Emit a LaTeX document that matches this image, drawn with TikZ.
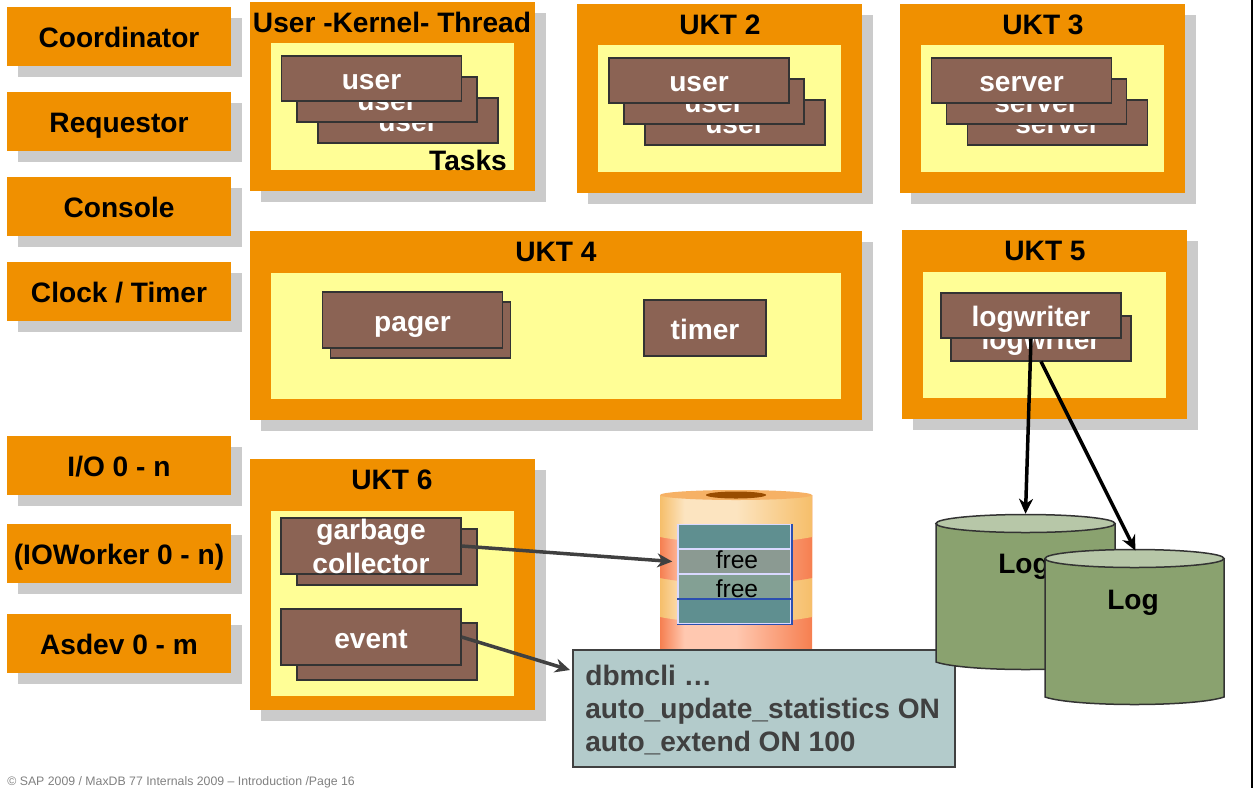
\documentclass[tikz,border=0pt]{standalone}
\usepackage{fontspec}
\setmainfont{Liberation Sans}
\usetikzlibrary{arrows.meta,shadows,shapes.geometric}

\definecolor{threadorange}{HTML}{F09000}
\definecolor{taskyellow}{HTML}{FFFE96}
\definecolor{taskbrown}{HTML}{8B6354}
\definecolor{shadowgray}{HTML}{CBCBCB}
\definecolor{notegray}{HTML}{B3CBCB}
\definecolor{loggreen}{HTML}{8AA26F}
\definecolor{logcap}{HTML}{B7C7A8}
\definecolor{rowteal}{HTML}{5F8F90}
\definecolor{rowfreea}{HTML}{8B9A92}
\definecolor{rowfreeb}{HTML}{83A094}
\definecolor{rowblue}{HTML}{2B4FB0}
\definecolor{lightedge}{HTML}{F6BE6A}
\definecolor{lightmid}{HTML}{FCE4C0}
\definecolor{rededge}{HTML}{F67F50}
\definecolor{redmid}{HTML}{FFC8B0}

\pgfdeclarehorizontalshading{disklight}{100bp}{color(0bp)=(lightedge); color(25bp)=(lightedge); color(33bp)=(lightmid); color(50bp)=(lightmid); color(75bp)=(lightedge); color(100bp)=(lightedge)}
\pgfdeclarehorizontalshading{diskred}{100bp}{color(0bp)=(rededge); color(25bp)=(rededge); color(33bp)=(redmid); color(50bp)=(redmid); color(75bp)=(rededge); color(100bp)=(rededge)}

\def\px{0.02cm}
\tikzset{
  bigfont/.style={font=\fontsize{16}{19}\bfseries\selectfont, text height=22*\px, text depth=2*\px},
  sidebox/.style={fill=threadorange, bigfont, text height=24*\px, inner sep=0pt, minimum width=224*\px, minimum height=59*\px,
    drop shadow={shadow xshift=11*\px, shadow yshift=-11*\px, fill=shadowgray, opacity=1}},
  thread/.style n args={2}{fill=threadorange, inner sep=0pt, minimum width=#1*\px, minimum height=#2*\px,
    drop shadow={shadow xshift=11*\px, shadow yshift=-11*\px, fill=shadowgray, opacity=1}},
  inner/.style n args={2}{fill=taskyellow, inner sep=0pt, minimum width=#1*\px, minimum height=#2*\px},
  task/.style n args={2}{fill=taskbrown, draw=black!80, line width=1.2*\px, text=white, bigfont, text height=24*\px, inner sep=0pt, align=center,
    minimum width=#1*\px, minimum height=#2*\px},
  row/.style={fill=rowteal, draw=white!85!blue, line width=1.5*\px, inner sep=0pt, minimum width=113*\px, minimum height=24*\px,
    font=\fontsize{14}{17}\selectfont},
  logbody/.style={fill=loggreen, draw=black!80, line width=1.5*\px},
  logcapnode/.style={ellipse, fill=logcap, draw=black!80, line width=1.5*\px, inner sep=0pt, minimum width=179*\px, minimum height=18*\px},
  link/.style={line width=3.5*\px, -{Stealth[length=15*\px, width=14*\px]}}
}

\begin{document}
\begin{tikzpicture}[x=\px, y=-\px]
 \useasboundingbox (0,0) rectangle (1253,788);
 \fill[black] (1251,0) rectangle (1253,788);

 % left column
 \node[sidebox] (coordinator) at (119,36.5) {Coordinator};
 \node[sidebox] (requestor) at (119,121.5) {Requestor};
 \node[sidebox] (console) at (119,206.5) {Console};
 \node[sidebox] (clock) at (119,291.5) {Clock / Timer};
 \node[sidebox] (io) at (119,465.5) {I/O 0 - n};
 \node[sidebox] (ioworker) at (119,553.5) {(IOWorker 0 - n)};
 \node[sidebox] (asdev) at (119,643.5) {Asdev 0 - m};

 % UKT 1
 \node[thread={285}{189}] (ukta) at (392.5,96.5) {};
 \node[inner={243}{127}] (inna) at (392.5,106.5) {};
 \node[bigfont] (titlea) at (392,22) {User -Kernel- Thread};
 \node[task={180}{45}] (usera3) at (408,120.5) {user};
 \node[task={180}{45}] (usera2) at (387,99.5) {user};
 \node[task={180}{45}] (usera1) at (371.5,78.5) {user};
 \node[bigfont] (tasks) at (468,160) {Tasks};

 % UKT 2
 \node[thread={285}{189}] (uktb) at (719.5,98.5) {};
 \node[inner={243}{127}] (innb) at (719.5,108.5) {};
 \node[bigfont] (titleb) at (720,24) {UKT 2};
 \node[task={180}{45}] (userb3) at (735,122.5) {user};
 \node[task={180}{45}] (userb2) at (714,101.5) {user};
 \node[task={180}{45}] (userb1) at (699,80.5) {user};

 % UKT 3
 \node[thread={285}{189}] (uktc) at (1042.5,98.5) {};
 \node[inner={243}{127}] (innc) at (1042.5,108.5) {};
 \node[bigfont] (titlec) at (1043,24) {UKT 3};
 \node[task={180}{45}] (serverc3) at (1057.5,122.5) {server};
 \node[task={180}{45}] (serverc2) at (1036.5,101.5) {server};
 \node[task={180}{45}] (serverc1) at (1021.5,80.5) {server};

 % UKT 4
 \node[thread={612}{189}] (uktd) at (556,325.5) {};
 \node[inner={570}{126}] (innd) at (556,336) {};
 \node[bigfont] (titled) at (556,251) {UKT 4};
 \node[task={180}{56}] (pagerback) at (420.5,330) {};
 \node[task={180}{56}] (pager) at (412.5,320) {pager};
 \node[task={122}{56}] (timer) at (705,328) {timer};

 % UKT 5
 \node[thread={285}{189}] (ukte) at (1044.5,324.5) {};
 \node[inner={243}{126}] (inne) at (1044.5,335) {};
 \node[bigfont] (titlee) at (1045,250) {UKT 5};
 \node[task={180}{45}] (logback) at (1041,338.5) {logwriter};
 \node[task={180}{45}] (logfront) at (1031,315.5) {logwriter};

 % UKT 6
 \node[thread={285}{251}] (uktf) at (392.5,584.5) {};
 \node[inner={243}{185}] (innf) at (392.5,603.5) {};
 \node[bigfont] (titlef) at (392,479) {UKT 6};
 \node[task={180}{56}] (garbageback) at (387,557) {};
 \node[task={180}{56}, font=\fontsize{16}{19.4}\bfseries\selectfont, text height=, text depth=] (garbage) at (371,546) {garbage\\collector};
 \node[task={180}{57}] (eventback) at (387,651.5) {};
 \node[task={180}{56}] (event) at (371,637) {event};

 % data volume
 \shade[shading=diskred] (660,495) -- (660,650) -- (812,650) -- (812,495) -- cycle;
 \shade[shading=disklight] (660,495) -- (660,617) .. controls (700,625) and (772,625) .. (812,617) -- (812,495) -- cycle;
 \shade[shading=diskred] (660,495) -- (660,578) .. controls (700,586) and (772,586) .. (812,578) -- (812,495) -- cycle;
 \shade[shading=disklight] (660,495) -- (660,537) .. controls (700,545) and (772,545) .. (812,537) -- (812,495) -- cycle;
 \fill[lightedge!80!rededge] (736,495) ellipse[x radius=76, y radius=5];
 \fill[orange!60!black] (736,495) ellipse[x radius=30, y radius=3.5];

 \node[row] (rowa) at (734.5,536.5) {};
 \node[row, fill=rowfreea, text=black, text height=13*\px, text depth=0pt] (rowb) at (734.5,561.5) {\kern2.8pt free};
 \node[row, fill=rowfreeb, text=black, text height=21.5*\px, text depth=0pt] (rowc) at (734.5,586.5) {\kern2.8pt free};
 \node[row] (rowd) at (734.5,611.5) {};
 \draw[rowblue, line width=1.5*\px] (rowa.north east) -- (rowd.south east) -- (rowd.south west);
 \draw[rowblue, line width=1.5*\px] (rowd.north east) -- (rowd.north west);

 % note
 \node[fill=notegray, draw=black!75, line width=1.5*\px, inner sep=0pt, minimum width=382*\px, minimum height=117*\px] (note) at (764,708.5) {};
 \node[anchor=west, inner sep=0pt, align=left, text=black!75, font=\fontsize{16}{19}\bfseries\selectfont] (notetext) at (585,710)
   {dbmcli …\\auto\_update\_statistics ON\\auto\_extend ON 100};

 % log volumes
 \draw[logbody] (936,523.5) -- (936,662) .. controls (965,672) and (1086,672) .. (1115,662) -- (1115,523.5);
 \node[logcapnode] (loga) at (1025.5,523.5) {};
 \node[bigfont] (labela) at (1024,563) {Log};
 \draw[logbody] (1045,558.5) -- (1045,697) .. controls (1074,707) and (1195,707) .. (1224,697) -- (1224,558.5);
 \node[logcapnode] (logb) at (1134.5,558.5) {};
 \node[bigfont] (labelb) at (1133,599) {Log};

 \coordinate (noteend) at (570,670);
 \draw[link, black!75] (garbage.east) -- ([xshift=-5*\px]rowb.west);
 \draw[link, black!75] (event.east) -- (noteend);
 \draw[link] (logfront.south) -- (loga.north);
 \draw[link, shorten >=-2*\px] (logback.south) -- (logb.north);

 \node[anchor=west, inner sep=0pt, text=gray, font=\fontsize{7}{8}\selectfont] (footer) at (7,782)
   {© SAP 2009 / MaxDB 77 Internals 2009 – Introduction /Page 16};
\end{tikzpicture}
\end{document}
